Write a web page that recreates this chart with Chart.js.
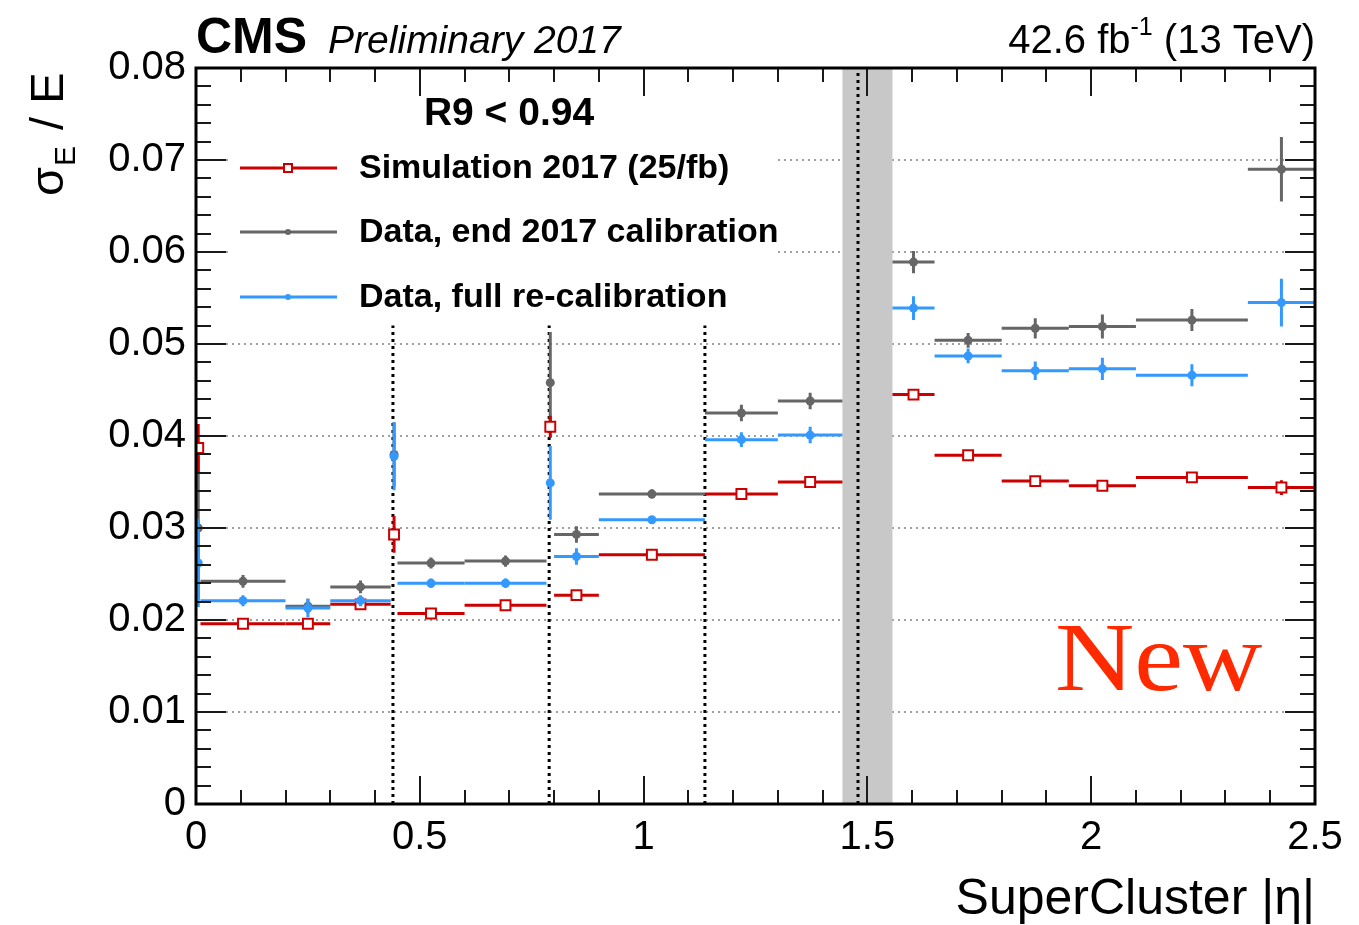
<!DOCTYPE html>
<html>
<head>
<meta charset="utf-8">
<title>Energy resolution vs SuperCluster eta</title>
<script src="https://cdn.jsdelivr.net/npm/chart.js@4.4.1/dist/chart.umd.min.js"></script>
<style>
  body { margin: 0; background: #fff; }
  #wrap { width: 1359px; height: 925px; }
</style>
</head>
<body>
<div id="wrap"><canvas id="resoChart" width="1359" height="925"></canvas></div>
<script>
// ------------------------------------------------------------
//  sigma_E / E per |eta| bin, R9 < 0.94, three calibrations
// ------------------------------------------------------------

// bin edges in |eta| (narrow bins sit on the module cracks)
const etaLo = [0, 0.01, 0.2, 0.3, 0.435, 0.45, 0.6, 0.783, 0.8, 0.9, 1.137, 1.3, 1.556, 1.65, 1.8, 1.95, 2.1, 2.35];
const etaHi = [0.01, 0.2, 0.3, 0.435, 0.45, 0.6, 0.783, 0.8, 0.9, 1.137, 1.3, 1.4442, 1.65, 1.8, 1.95, 2.1, 2.35, 2.5];

// Simulation 2017 (25/fb)
const simVal = [0.0387, 0.0196, 0.0196, 0.0217, 0.0293, 0.0207, 0.0216, 0.0410, 0.0227, 0.0271, 0.0337, 0.0350, 0.0445, 0.0379, 0.0351, 0.0346, 0.0355, 0.0344];
const simErr = [0.0026, 0.0002, 0.0002, 0.0002, 0.0020, 0.0002, 0.0002, 0.0012, 0.0002, 0.0002, 0.0002, 0.0002, 0.0003, 0.0002, 0.0002, 0.0002, 0.0003, 0.0008];

// Data, end 2017 calibration
const endVal = [0.0300, 0.0242, 0.0215, 0.0236, 0.0380, 0.0262, 0.0264, 0.0458, 0.0293, 0.0337, 0.0425, 0.0438, 0.0589, 0.0504, 0.0517, 0.0519, 0.0526, 0.0690];
const endErr = [0.0078, 0.0007, 0.0008, 0.0007, 0.0035, 0.0006, 0.0006, 0.0055, 0.0009, 0.0005, 0.0009, 0.0009, 0.0012, 0.0008, 0.0011, 0.0013, 0.0012, 0.0035];

// Data, full re-calibration
const fullVal = [0.0262, 0.0221, 0.0213, 0.0221, 0.0378, 0.0240, 0.0240, 0.0349, 0.0269, 0.0309, 0.0396, 0.0401, 0.0539, 0.0487, 0.0471, 0.0473, 0.0466, 0.0545];
const fullErr = [0.0048, 0.0006, 0.0010, 0.0006, 0.0037, 0.0005, 0.0005, 0.0040, 0.0009, 0.0004, 0.0008, 0.0009, 0.0013, 0.0008, 0.0010, 0.0012, 0.0012, 0.0026];

// module boundaries and EB/EE transition
const crackEta = [0.44, 0.789, 1.137];
const crackTop = 0.052;
const transitionEta = 1.479;
const gapBand = [1.4442, 1.556];

const yTicks = [0, 0.01, 0.02, 0.03, 0.04, 0.05, 0.06, 0.07, 0.08];
const xTicks = [0, 0.5, 1, 1.5, 2, 2.5];

const RED = "#cc0000";
const GRAY = "#666666";
const BLUE = "#3399ff";
const FONT = '"Liberation Sans", Arial, Helvetica, sans-serif';

function toPoints(vals) {
    return vals.map((v, i) => ({ x: (etaLo[i] + etaHi[i]) / 2, y: v }));
}

// horizontal bin width + vertical error, drawn under each dataset's markers
const errorBars = {
    id: "errorBars",
    beforeDatasetDraw(chart, args) {
        const ds = chart.data.datasets[args.index];
        const xs = chart.scales.x, ys = chart.scales.y;
        const ctx = chart.ctx;
        ctx.save();
        ctx.strokeStyle = ds.borderColor;
        ctx.lineWidth = 3;
        ctx.lineCap = "butt";
        ds.data.forEach((p, i) => {
            const py = ys.getPixelForValue(p.y);
            const px = xs.getPixelForValue(p.x);
            ctx.beginPath();
            ctx.moveTo(xs.getPixelForValue(etaLo[i]), py);
            ctx.lineTo(xs.getPixelForValue(etaHi[i]), py);
            ctx.moveTo(px, ys.getPixelForValue(p.y - ds.yErr[i]));
            ctx.lineTo(px, ys.getPixelForValue(p.y + ds.yErr[i]));
            ctx.stroke();
        });
        ctx.restore();
    }
};

// grid, gap band, crack lines, frame with inner ticks, legend and labels
const rootStyle = {
    id: "rootStyle",
    beforeDatasetsDraw(chart) {
        const { ctx, chartArea: a } = chart;
        const xs = chart.scales.x, ys = chart.scales.y;
        ctx.save();

        // dotted horizontal grid
        ctx.strokeStyle = "#a0a0a0";
        ctx.lineWidth = 2;
        ctx.setLineDash([2, 4]);
        yTicks.slice(1, -1).forEach(v => {
            const py = Math.round(ys.getPixelForValue(v));
            ctx.beginPath();
            ctx.moveTo(a.left, py);
            ctx.lineTo(a.right, py);
            ctx.stroke();
        });

        // EB/EE gap
        ctx.setLineDash([]);
        ctx.fillStyle = "#c8c8c8";
        const g0 = xs.getPixelForValue(gapBand[0]), g1 = xs.getPixelForValue(gapBand[1]);
        ctx.fillRect(g0, a.top, g1 - g0, a.bottom - a.top);

        // crack lines
        ctx.strokeStyle = "#000";
        ctx.lineWidth = 3;
        ctx.setLineDash([3, 4]);
        crackEta.forEach(e => {
            const px = xs.getPixelForValue(e);
            ctx.beginPath();
            ctx.moveTo(px, a.bottom);
            ctx.lineTo(px, ys.getPixelForValue(crackTop));
            ctx.stroke();
        });
        const tx = xs.getPixelForValue(transitionEta);
        ctx.beginPath();
        ctx.moveTo(tx, a.bottom);
        ctx.lineTo(tx, a.top);
        ctx.stroke();

        // legend background
        ctx.setLineDash([]);
        ctx.fillStyle = "#fff";
        ctx.fillRect(230, 86, 547, 236);
        ctx.restore();
    },
    afterDatasetsDraw(chart) {
        const { ctx, chartArea: a } = chart;
        const xs = chart.scales.x, ys = chart.scales.y;
        ctx.save();

        // ticks on all four sides
        ctx.strokeStyle = "#1a1a1a";
        ctx.lineWidth = 2;
        ctx.beginPath();
        for (let k = 0; k <= 25; k++) {
            const px = Math.round(xs.getPixelForValue(k / 10));
            const len = k % 5 === 0 ? 28 : 14;
            ctx.moveTo(px, a.bottom); ctx.lineTo(px, a.bottom - len);
            ctx.moveTo(px, a.top); ctx.lineTo(px, a.top + len);
        }
        for (let k = 0; k <= 40; k++) {
            const py = Math.round(ys.getPixelForValue(k * 0.002));
            const len = k % 5 === 0 ? 30 : 15;
            ctx.moveTo(a.left, py); ctx.lineTo(a.left + len, py);
            ctx.moveTo(a.right, py); ctx.lineTo(a.right - len, py);
        }
        ctx.stroke();

        // frame
        ctx.lineWidth = 3;
        ctx.strokeStyle = "#000";
        ctx.strokeRect(a.left, a.top, a.right - a.left, a.bottom - a.top);

        // legend
        ctx.fillStyle = "#000";
        ctx.font = "bold 39px " + FONT;
        ctx.textAlign = "center";
        ctx.textBaseline = "middle";
        ctx.fillText("R9 < 0.94", 509, 114);

        const entries = [
            { label: "Simulation 2017 (25/fb)", color: RED, square: true, y: 168 },
            { label: "Data, end 2017 calibration", color: GRAY, square: false, y: 232 },
            { label: "Data, full re-calibration", color: BLUE, square: false, y: 297 }
        ];
        ctx.textAlign = "left";
        ctx.font = "bold 34px " + FONT;
        entries.forEach(en => {
            ctx.strokeStyle = en.color;
            ctx.lineWidth = 3;
            ctx.beginPath();
            ctx.moveTo(240, en.y);
            ctx.lineTo(337, en.y);
            ctx.stroke();
            if (en.square) {
                ctx.fillStyle = "#fff";
                ctx.fillRect(284, en.y - 4, 8, 8);
                ctx.lineWidth = 2;
                ctx.strokeRect(284, en.y - 4, 8, 8);
            } else {
                ctx.fillStyle = en.color;
                ctx.beginPath();
                ctx.arc(288, en.y, 3, 0, Math.PI * 2);
                ctx.fill();
            }
            ctx.fillStyle = "#000";
            ctx.fillText(en.label, 359, en.y + 1);
        });
        ctx.restore();
    },
    afterDraw(chart) {
        const { ctx, chartArea: a } = chart;
        ctx.save();
        ctx.fillStyle = "#000";
        ctx.textBaseline = "alphabetic";

        // header
        ctx.textAlign = "left";
        ctx.font = "bold 50px " + FONT;
        ctx.fillText("CMS", a.left, 53);
        const cmsW = ctx.measureText("CMS").width;
        ctx.font = "italic 39px " + FONT;
        ctx.fillText("Preliminary 2017", a.left + cmsW + 21, 53);

        ctx.font = "40px " + FONT;
        const tail = " (13 TeV)";
        const head = "42.6 fb";
        const tailW = ctx.measureText(tail).width;
        const headW = ctx.measureText(head).width;
        ctx.font = "25px " + FONT;
        const supW = ctx.measureText("-1").width;
        let x = a.right - tailW - supW - headW;
        ctx.font = "40px " + FONT;
        ctx.fillText(head, x, 53);
        ctx.font = "25px " + FONT;
        ctx.fillText("-1", x + headW, 35);
        ctx.font = "40px " + FONT;
        ctx.fillText(tail, x + headW + supW, 53);

        // x axis title
        ctx.textAlign = "right";
        ctx.font = "50px " + FONT;
        ctx.fillText("SuperCluster |\u03b7|", a.right, 914);

        // y axis title, rotated, with subscript
        ctx.translate(63, 196);
        ctx.rotate(-Math.PI / 2);
        ctx.textAlign = "left";
        ctx.font = "47px " + FONT;
        ctx.fillText("\u03c3", 0, 0);
        const sW = ctx.measureText("\u03c3").width;
        ctx.font = "30px " + FONT;
        ctx.fillText("E", sW + 1, 12);
        const eW = ctx.measureText("E").width;
        ctx.font = "47px " + FONT;
        ctx.fillText(" / E", sW + eW + 4, 0);
        ctx.setTransform(1, 0, 0, 1, 0, 0);

        // stamp
        ctx.fillStyle = "#ff2a00";
        ctx.textAlign = "left";
        ctx.translate(1055, 690);
        ctx.scale(1.12, 1);
        ctx.font = "98px \"Liberation Serif\", \"Times New Roman\", serif";
        ctx.fillText("New", 0, 0);
        ctx.restore();
    }
};

const ctx = document.getElementById("resoChart").getContext("2d");

new Chart(ctx, {
    type: "scatter",
    data: {
        datasets: [
            {
                label: "Simulation 2017 (25/fb)",
                data: toPoints(simVal),
                yErr: simErr,
                borderColor: RED,
                backgroundColor: "#ffffff",
                pointStyle: "rect",
                pointRadius: 7,
                pointBorderWidth: 2,
                order: 1
            },
            {
                label: "Data, end 2017 calibration",
                data: toPoints(endVal),
                yErr: endErr,
                borderColor: GRAY,
                backgroundColor: GRAY,
                pointStyle: "circle",
                pointRadius: 4.5,
                pointBorderWidth: 0,
                order: 2
            },
            {
                label: "Data, full re-calibration",
                data: toPoints(fullVal),
                yErr: fullErr,
                borderColor: BLUE,
                backgroundColor: BLUE,
                pointStyle: "circle",
                pointRadius: 4.5,
                pointBorderWidth: 0,
                order: 0
            }
        ]
    },
    options: {
        responsive: false,
        animation: false,
        devicePixelRatio: 1,
        events: [],
        layout: { padding: { top: 68, right: 44, left: 0, bottom: 0 } },
        plugins: {
            legend: { display: false },
            tooltip: { enabled: false }
        },
        scales: {
            x: {
                type: "linear",
                min: 0,
                max: 2.5,
                afterFit: s => { s.height = 121; },
                afterBuildTicks: s => { s.ticks = xTicks.map(v => ({ value: v })); },
                grid: { display: false, drawTicks: false },
                border: { display: false },
                ticks: {
                    autoSkip: false,
                    maxRotation: 0,
                    padding: 10,
                    color: "#000",
                    font: { family: FONT, size: 40 },
                    callback: v => String(v)
                }
            },
            y: {
                type: "linear",
                min: 0,
                max: 0.08,
                afterFit: s => { s.width = 196; },
                afterBuildTicks: s => { s.ticks = yTicks.map(v => ({ value: v })); },
                grid: { display: false, drawTicks: false },
                border: { display: false },
                ticks: {
                    autoSkip: false,
                    padding: 10,
                    color: "#000",
                    font: { family: FONT, size: 40 },
                    callback: v => v === 0 ? "0" : v.toFixed(2)
                }
            }
        }
    },
    plugins: [errorBars, rootStyle]
});
</script>
</body>
</html>
